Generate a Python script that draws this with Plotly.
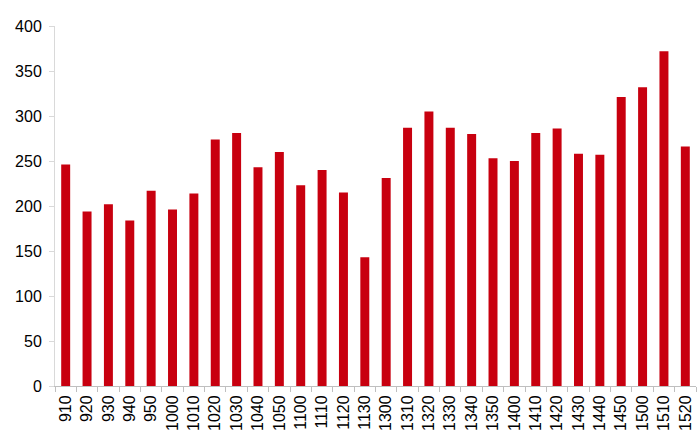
import plotly.graph_objects as go

weeks = ["910", "920", "930", "940", "950", "1000", "1010", "1020", "1030", "1040",
         "1050", "1100", "1110", "1120", "1130", "1300", "1310", "1320", "1330", "1340",
         "1350", "1400", "1410", "1420", "1430", "1440", "1450", "1500", "1510", "1520"]
values = [246, 194, 202, 184, 217, 196, 214, 274, 281, 243,
          260, 223, 240, 215, 143, 231, 287, 305, 287, 280,
          253, 250, 281, 286, 258, 257, 321, 332, 372, 266]

fig = go.Figure(
    go.Bar(x=weeks, y=values, marker_color="#C8000F", marker_line_width=0, width=0.42)
)

fig.update_layout(
    width=699, height=441,
    margin=dict(l=55, r=3, t=26, b=55, autoexpand=False),
    paper_bgcolor="white", plot_bgcolor="white",
    font=dict(family="Liberation Sans, Arial, sans-serif", size=16, color="black"),
    showlegend=False,
)
fig.update_xaxes(
    type="category", tickangle=-90, showline=True, linecolor="#BFBFBF", linewidth=1,
    ticks="outside", tickson="boundaries", ticklen=5, tickcolor="#BFBFBF",
    showgrid=False, automargin=False, ticklabelstandoff=2,
)
fig.update_yaxes(
    range=[0, 400], dtick=50, showline=True, linecolor="#D9D9D9", linewidth=1,
    ticks="outside", ticklen=5, tickcolor="#D9D9D9", showgrid=False, zeroline=False,
    automargin=False, ticklabelstandoff=4,
)

# drop the browser's default body margin so the figure sits at the page corner
fig.write_html("out.html", config={"displayModeBar": False},
               post_script="document.body.style.margin='0';")
